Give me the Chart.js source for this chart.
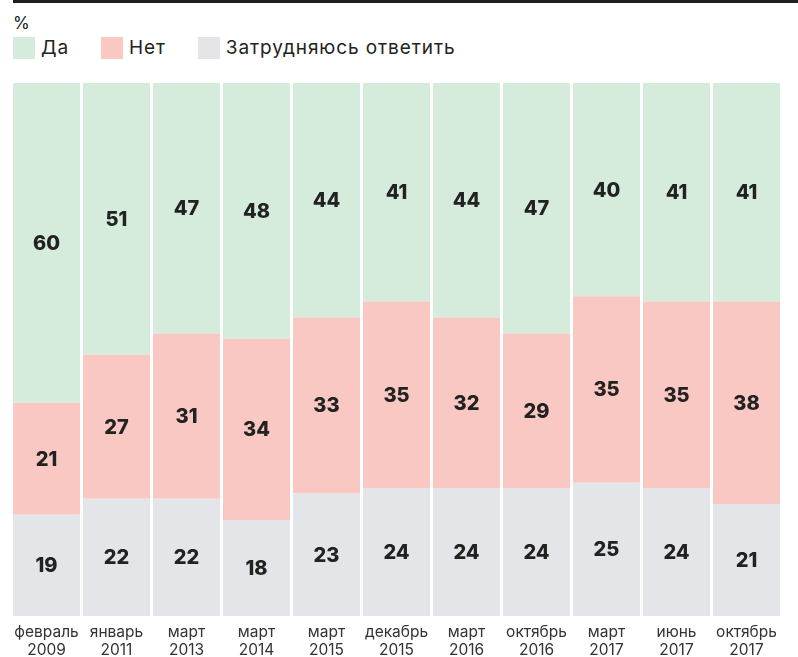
<!DOCTYPE html>
<html><head><meta charset="utf-8">
<script src="https://cdn.jsdelivr.net/npm/chart.js@4/dist/chart.umd.min.js"></script>
<style>
html,body{margin:0;padding:0;background:#fff;}
#wrap{position:relative;width:798px;height:657px;overflow:hidden;font-family:Inter,"Noto Sans",sans-serif;}
#topline{position:absolute;left:13px;top:0;width:785px;height:3px;background:#1e1e1e;}
#unit{position:absolute;left:13px;top:13px;font-size:17px;color:#222;}
#legend{position:absolute;left:13px;top:36px;display:flex;align-items:center;font-size:19px;letter-spacing:0.9px;color:#222;}
.item{display:flex;align-items:center;margin-right:32px;}
.sw{width:22px;height:22px;margin-right:6px;}
canvas{position:absolute;left:0;top:0;}
</style></head>
<body><div id="wrap">
<div id="topline"></div>
<div id="unit">%</div>
<div id="legend"></div>
<canvas id="c" width="798" height="657"></canvas>
</div>
<script>
const categories = [["февраль","2009"],["январь","2011"],["март","2013"],["март","2014"],["март","2015"],["декабрь","2015"],["март","2016"],["октябрь","2016"],["март","2017"],["июнь","2017"],["октябрь","2017"]];
const seriesNames = ["Да","Нет","Затрудняюсь ответить"];
const yesValues = [60,51,47,48,44,41,44,47,40,41,41];
const noValues = [21,27,31,34,33,35,32,29,35,35,38];
const unsureValues = [19,22,22,18,23,24,24,24,25,24,21];
const colors = ["#d5ecdd","#f9c8c2","#e4e5e8"];

const legend = document.getElementById('legend');
seriesNames.forEach((n,i)=>{
  const d=document.createElement('div');d.className='item';
  d.innerHTML='<div class="sw" style="background:'+colors[i]+'"></div><span>'+n+'</span>';
  legend.appendChild(d);
});

const labelPlugin = {
  id:'segLabels',
  afterDatasetsDraw(chart){
    const ctx=chart.ctx;
    ctx.save();
    ctx.font='800 20px Inter, "DejaVu Sans", sans-serif';
    ctx.fillStyle='#222';
    ctx.textAlign='center';ctx.textBaseline='middle';
    chart.data.datasets.forEach((ds,di)=>{
      chart.getDatasetMeta(di).data.forEach((bar,i)=>{
        const y=(bar.y+bar.base)/2;
        ctx.fillText(String(ds.data[i]),bar.x,y+1);
      });
    });
    ctx.restore();
  }
};

new Chart(document.getElementById('c'),{
  type:'bar',
  data:{labels:categories,datasets:[
    {label:seriesNames[2],data:unsureValues,backgroundColor:colors[2]},
    {label:seriesNames[1],data:noValues,backgroundColor:colors[1]},
    {label:seriesNames[0],data:yesValues,backgroundColor:colors[0]}
  ]},
  options:{
    responsive:false,animation:false,
    layout:{padding:{left:11.5,right:16.5,top:83,bottom:0}},
    datasets:{bar:{barPercentage:0.957,categoryPercentage:1,borderWidth:0}},
    plugins:{legend:{display:false},tooltip:{enabled:false}},
    scales:{
      x:{stacked:true,grid:{display:false,drawTicks:false},border:{display:false},
        ticks:{color:'#333',font:{size:15.5,family:'Inter, "Noto Sans", sans-serif',lineHeight:1.12},padding:8,maxRotation:0,autoSkip:false},
        afterFit(s){s.height=41;}},
      y:{stacked:true,min:0,max:100,display:false}
    }
  },
  plugins:[labelPlugin]
});
</script>
</body></html>
